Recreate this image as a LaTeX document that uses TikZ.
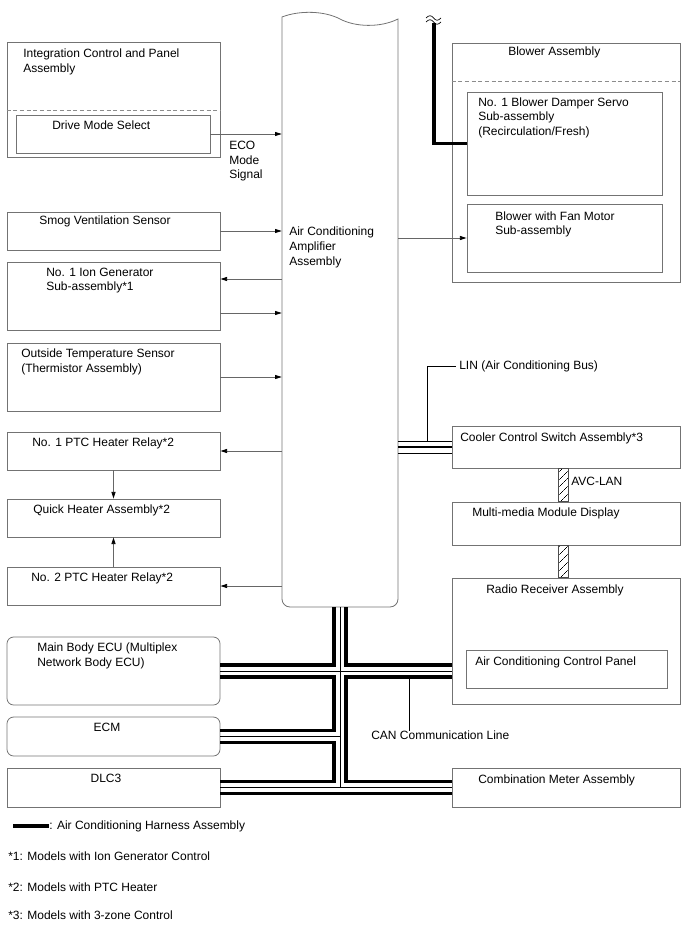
\documentclass[tikz,border=0pt]{standalone}
\usepackage{fontspec}
\setmainfont{Liberation Sans}
\usetikzlibrary{arrows.meta,calc,fit,patterns.meta}

\begin{document}
\begin{tikzpicture}[
    x=0.75pt, y=-0.75pt,
    box/.style={draw=black!55,line width=0.6pt,inner sep=0pt,fit={#1}},
    rbox/.style={box={#1},rounded corners=5pt},
    lbl/.style={anchor=north west,inner sep=0pt,align=left,font=\fontsize{9}{10.9}\selectfont},
    sig/.style={draw=black!60,line width=0.6pt,-{Triangle[length=5pt,width=3pt,color=black]}},
    wire/.style={black,line width=0.5pt},
    harness/.style={black,line width=2.9pt},
    sepline/.style={draw=black!45,dash pattern=on 3pt off 2pt,line width=0.6pt},
    avc/.style={draw=black!70,line width=0.6pt,pattern={Lines[angle=45,distance=4pt,line width=0.4pt]}}
]
\useasboundingbox (0,0) rectangle (688,949);

% left column
\node[box={(7,42) (220,157)}] (icp) {};
\draw[sepline] (icp.west |- 0,110) -- (icp.east |- 0,110);
\node[box={(16,115) (210,153)}] (dms) {};
\node[box={(7,212) (220,250)}] (smog) {};
\node[box={(7,262) (220,330)}] (ion) {};
\node[box={(7,343) (220,411)}] (ots) {};
\node[box={(7,432) (220,470)}] (ptc1) {};
\node[box={(7,499) (220,537)}] (qha) {};
\node[box={(7,567) (220,605)}] (ptc2) {};
\node[rbox={(7,637) (220,705)}] (mbecu) {};
\node[rbox={(7,717) (220,756)}] (ecm) {};
\node[box={(7,768) (220,807)}] (dlc) {};

\node[lbl] (t-icp) at (23,49) {Integration Control and Panel\\Assembly};
\node[lbl] (t-dms) at (52,121) {Drive Mode Select};
\node[lbl] (t-eco) at (229,141) {ECO\\Mode\\Signal};
\node[lbl] (t-smog) at (39,216) {Smog Ventilation Sensor};
\node[lbl] (t-ion) at (46,267.5) {No. 1 Ion Generator\\Sub-assembly*1};
\node[lbl] (t-ots) at (21,349) {Outside Temperature Sensor\\(Thermistor Assembly)};
\node[lbl] (t-ptc1) at (32,438) {No. 1 PTC Heater Relay*2};
\node[lbl] (t-qha) at (33,505) {Quick Heater Assembly*2};
\node[lbl] (t-ptc2) at (31,573) {No. 2 PTC Heater Relay*2};
\node[lbl] (t-mbecu) at (37,643) {Main Body ECU (Multiplex\\Network Body ECU)};
\node[lbl,anchor=north] (t-ecm) at (107,723) {ECM};
\node[lbl,anchor=north] (t-dlc) at (106,774) {DLC3};

% amplifier
\node[inner sep=0pt,fit={(282,17) (398,607)}] (amp) {};
\draw[draw=black!55,line width=0.6pt] (282,17) .. controls (300,10) and (325,11) .. (340,19)
    .. controls (355,27) and (380,28) .. (398,19) -- (398,599)
    arc[start angle=0,end angle=90,radius=8] -- (290,607)
    arc[start angle=90,end angle=180,radius=8] -- cycle;
\node[lbl] (t-amp) at (289,227) {Air Conditioning\\Amplifier\\Assembly};

% right column
\node[box={(452,43) (680,282)}] (blower) {};
\draw[sepline] (blower.west |- 0,81) -- (blower.east |- 0,81);
\node[box={(467,92) (662,195)}] (servo) {};
\node[box={(467,204) (662,272)}] (fan) {};
\node[box={(452,426) (680,468)}] (ccs) {};
\node[box={(452,502) (680,545)}] (mmd) {};
\node[box={(452,578) (680,704)}] (radio) {};
\node[box={(466,650) (667,688)}] (acp) {};
\node[box={(452,768) (680,807)}] (meter) {};

\node[lbl] (t-blower) at (508,46.5) {Blower Assembly};
\node[lbl] (t-servo) at (478,97.5) {No. 1 Blower Damper Servo\\Sub-assembly\\(Recirculation/Fresh)};
\node[lbl] (t-fan) at (495,211.5) {Blower with Fan Motor\\Sub-assembly};
\node[lbl] (t-ccs) at (460,432.5) {Cooler Control Switch Assembly*3};
\node[lbl] (t-mmd) at (472,507.5) {Multi-media Module Display};
\node[lbl] (t-radio) at (486,585) {Radio Receiver Assembly};
\node[lbl] (t-acp) at (475,656.5) {Air Conditioning Control Panel};
\node[lbl] (t-meter) at (478,775) {Combination Meter Assembly};

% signals
\draw[sig] (dms.east) -- (dms.east -| amp.west);
\draw[sig] (smog.east) -- (smog.east -| amp.west);
\draw[sig] (amp.west |- 0,279) -- (ion.east |- 0,279);
\draw[sig] (ion.east |- 0,313) -- (amp.west |- 0,313);
\draw[sig] (ots.east) -- (ots.east -| amp.west);
\draw[sig] (amp.west |- ptc1.east) -- (ptc1.east);
\draw[sig] (ptc1.south) -- (qha.north);
\draw[sig] (ptc2.north) -- (qha.south);
\draw[sig] (amp.west |- ptc2.east) -- (ptc2.east);
\draw[sig] (amp.east |- fan.west) -- (fan.west);

% harness to damper servo, with break mark
\coordinate (brk) at (433.7,23);
\draw[harness] (brk) |- (servo.west);
\foreach \dy in {18,22}
  \draw[wire] (426,\dy) .. controls (429,\dy-3) and (431,\dy-3) .. (433.7,\dy)
      .. controls (436,\dy+3) and (438,\dy+3) .. (441,\dy);

% LIN
\draw[harness,line width=2pt] (amp.east |- ccs.west) -- (ccs.west);
\draw[wire] ($(amp.east |- ccs.west)+(0,-6)$) -- ($(ccs.west)+(0,-6)$);
\draw[wire] ($(amp.east |- ccs.west)+(0,6)$) -- ($(ccs.west)+(0,6)$);
\node[lbl,anchor=west] (t-lin) at (459,366) {LIN (Air Conditioning Bus)};
\draw[wire] (427,441) |- ($(t-lin.west)+(-3,0)$);

% AVC-LAN
\draw[avc] (558,0 |- ccs.south) rectangle (568,0 |- mmd.north);
\draw[avc] (558,0 |- mmd.south) rectangle (568,0 |- radio.north);
\node[lbl,anchor=west] (t-avc) at (571,481) {AVC-LAN};

% CAN
\draw[wire] (amp.south) -- (amp.south |- dlc.east);
\draw[wire] (mbecu.east) -- (radio.west |- mbecu.east);
\draw[wire] (ecm.east) -- (ecm.east -| amp.south);
\draw[wire] (dlc.east) -- (meter.west);
\draw[harness] ($(amp.south)+(-6,0)$) |- ($(mbecu.east)+(0,-6)$);
\draw[harness] ($(amp.south)+(6,0)$) |- ($(radio.west |- mbecu.east)+(0,-6)$);
\draw[harness] ($(mbecu.east)+(0,6)$) -| ($(amp.south |- ecm.east)+(-6,-6)$) -- ($(ecm.east)+(0,-6)$);
\draw[harness] ($(ecm.east)+(0,6)$) -| ($(amp.south |- dlc.east)+(-6,-6)$) -- ($(dlc.east)+(0,-6)$);
\draw[harness] ($(radio.west |- mbecu.east)+(0,6)$) -| ($(amp.south |- meter.west)+(6,-6)$) -- ($(meter.west)+(0,-6)$);
\draw[harness] ($(dlc.east)+(0,6)$) -- ($(meter.west)+(0,6)$);
\node[lbl] (t-can) at (371,731) {CAN Communication Line};
\draw[wire] (409,677) -- (409,0 |- t-can.north);

% legend
\coordinate (leg) at (13,826);
\draw[harness] (leg) -- ++(36,0) coordinate (leg-end);
\node[lbl,anchor=west] (t-leg) at (leg-end) {: Air Conditioning Harness Assembly};
\node[lbl] (t-n1) at (8,851.5) {*1: Models with Ion Generator Control};
\node[lbl] (t-n2) at (8,883) {*2: Models with PTC Heater};
\node[lbl] (t-n3) at (8,911) {*3: Models with 3-zone Control};
\end{tikzpicture}
\end{document}
